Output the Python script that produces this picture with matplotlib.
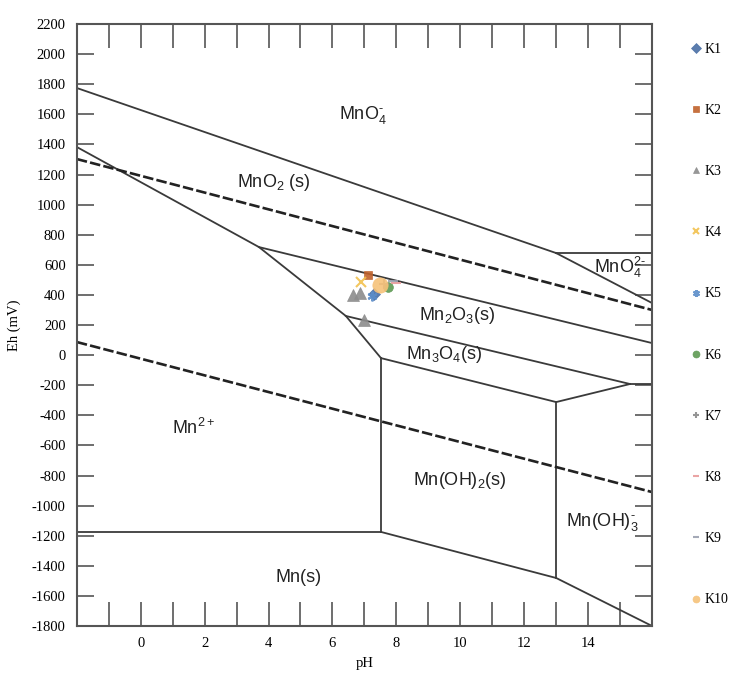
import matplotlib
matplotlib.use("Agg")
import matplotlib.pyplot as plt
import numpy as np

plt.rcParams["mathtext.fontset"] = "custom"
plt.rcParams["mathtext.rm"] = "Liberation Sans"
plt.rcParams["mathtext.it"] = "Liberation Sans:italic"
plt.rcParams["mathtext.bf"] = "Liberation Sans:bold"

# ---- boundary lines (pH, Eh mV) ----
line_top = ([-2, 13.0], [1775, 678])                 # MnO4- / MnO2
line_mno4_h = ([13.0, 16], [678, 678])               # MnO4- / MnO4 2-
line_mno4_2 = ([13.0, 16], [678, 346])               # MnO4 2- / MnO2
water_up = ([-2, 16], [1303, 300])
water_lo = ([-2, 16], [87, -910])
line_mn2 = ([-2, 3.70, 6.42, 7.52], [1383, 718, 260, -20])
line_mn2o3_top = ([3.70, 16], [718, 80])
line_mn2o3_mn3o4 = ([6.42, 15.31, 16], [260, -192, -192])
line_mn3o4_oh2 = ([7.52, 13.0, 15.31], [-20, -312, -192])
line_v1 = ([7.52, 7.52], [-20, -1175])
line_h1 = ([-2, 7.52], [-1175, -1175])
line_v2 = ([13.0, 13.0], [-312, -1481])
line_bottom = ([7.52, 13.0, 16], [-1175, -1481, -1800])

# ---- samples ----
series = ["K1", "K2", "K3", "K4", "K5", "K6", "K7", "K8", "K9", "K10"]
ph_vals = [[7.3], [7.1], [6.65, 6.85, 7.0], [6.9], [7.25], [7.75], [7.6], [8.0], [7.9], [7.5]]
eh_vals = [[405], [530], [400, 415, 235], [485], [395], [455], [470], [480], [495], [465]]
markers = ["D", "s", "^", "x", (6, 2, 0), "o", "+", "_", "_", "o"]
colors = ["#4A6FA5", "#C0622B", "#8C8C8C", "#F2C14E", "#5B8DC9", "#5E9A53",
          "#8A8A8A", "#E89A9A", "#9AA0B0", "#F6C27A"]
msizes = [6, 6, 8, 7, 7, 7, 7, 7, 7, 11]

# ---- region labels ----
labels = [r"MnO$_4^{\text{-}}$", "MnO$_2$ (s)", r"MnO$_4^{2\text{-}}$", "Mn$_2$O$_3$(s)",
          "Mn$_3$O$_4$(s)", "Mn$^{2+}$", "Mn(OH)$_2$(s)", r"Mn(OH)$_3^{\text{-}}$", "Mn(s)"]
label_ph = [6.95, 4.15, 15.0, 9.9, 9.5, 1.65, 10.0, 14.45, 4.95]
label_eh = [1595, 1150, 585, 266, 7, -484, -830, -1109, -1481]

fig = plt.figure(figsize=(7.31, 6.75), dpi=100)
ax = fig.add_axes([0.105, 0.0726, 0.787, 0.8918])

lc = "#3a3a3a"
for xs, ys in [line_top, line_mno4_h, line_mno4_2, line_mn2, line_mn2o3_top,
               line_mn2o3_mn3o4, line_mn3o4_oh2, line_v1, line_h1, line_v2, line_bottom]:
    ax.plot(xs, ys, color=lc, lw=1.3, zorder=2)
for xs, ys in [water_up, water_lo]:
    ax.plot(xs, ys, color="#222222", lw=1.9, ls=(0, (4, 1.2)), zorder=2)

handles = []
for name, px, py, m, c, ms in zip(series, ph_vals, eh_vals, markers, colors, msizes):
    h, = ax.plot(px, py, ls="none", marker=m, color=c, markersize=ms,
                 markeredgewidth=1.5 if m in ("x", "+", "_", (6, 2, 0)) else 0.5,
                 label=name, zorder=3, alpha=0.9)
    handles.append(h)

for t, x, y in zip(labels, label_ph, label_eh):
    ax.text(x, y, t, ha="center", va="center", fontsize=13,
            family="Liberation Sans", color="#222222")

ax.set_xlim(-2, 16)
ax.set_ylim(-1800, 2200)
ax.set_xticks(np.arange(-1, 16, 1))
ax.set_xticklabels([str(v) if (v % 2 == 0 and 0 <= v <= 14) else "" for v in range(-1, 16)])
ax.set_yticks(np.arange(-1800, 2201, 200))
ax.set_yticklabels([str(v) for v in range(-1800, 2201, 200)])
ax.tick_params(axis="x", direction="in", length=17, width=1.2, color="#555555",
               top=True, labelsize=10.5, pad=8)
ax.tick_params(axis="y", direction="in", length=12, width=1.2, color="#555555",
               right=True, labelsize=10.5, pad=8)
for lab in ax.get_xticklabels() + ax.get_yticklabels():
    lab.set_family("Liberation Serif")
for s in ax.spines.values():
    s.set_color("#555555")
    s.set_linewidth(1.5)

ax.set_xlabel("pH", family="Liberation Serif", fontsize=10.5, labelpad=5)
ax.set_ylabel("Eh (mV)", family="Liberation Serif", fontsize=10.5, labelpad=8)

leg = fig.legend(handles=handles, loc="upper left", bbox_to_anchor=(0.937, 0.947),
                 frameon=False, handlelength=0.6, handletextpad=0.3,
                 labelspacing=3.47, borderpad=0,
                 prop={"family": "Liberation Serif", "size": 10})
for h in leg.legend_handles:
    h.set_markersize(5)

fig.savefig("out.png", dpi=100)
